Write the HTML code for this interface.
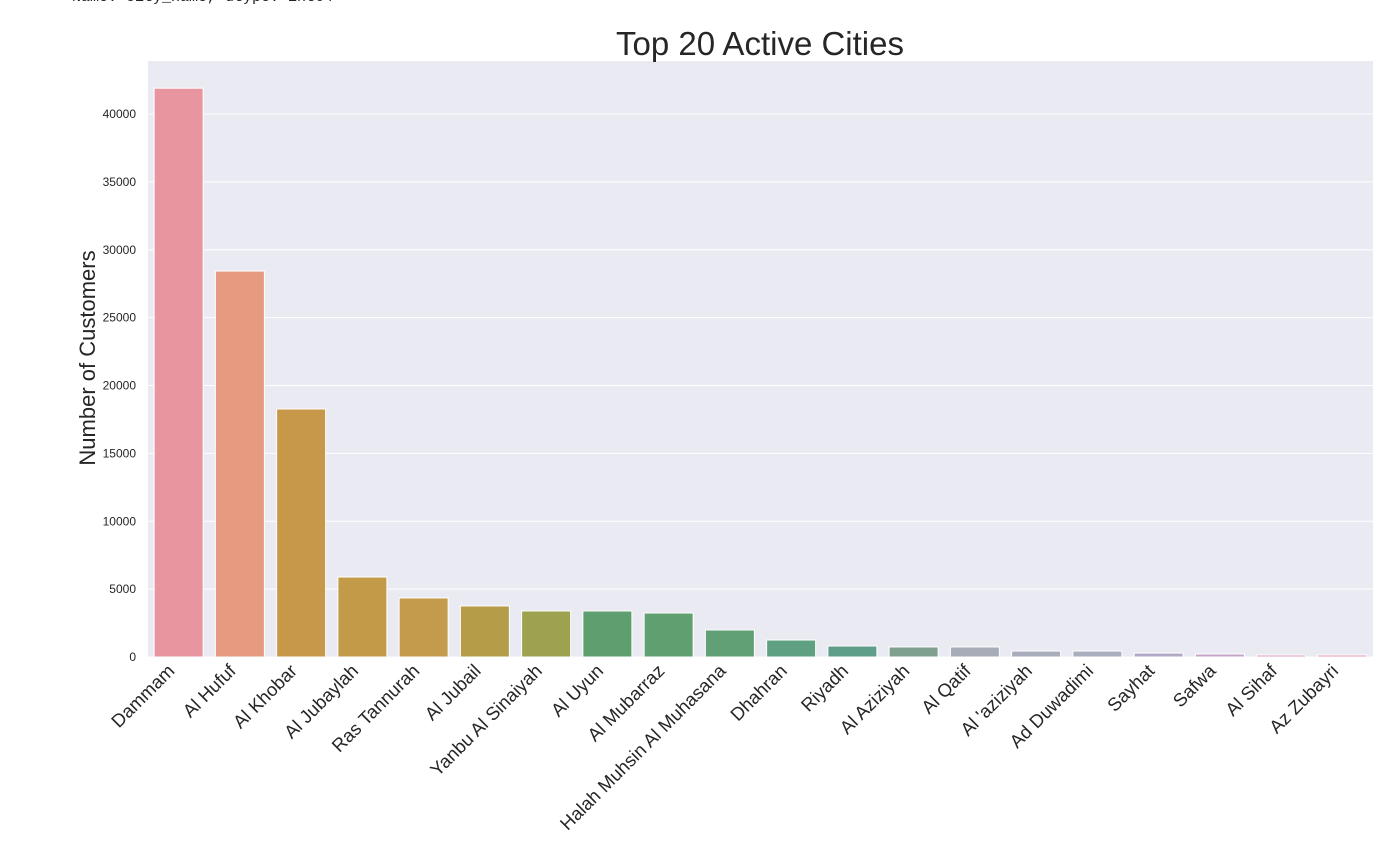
<!DOCTYPE html>
<html><head><meta charset="utf-8">
<style>
body{margin:0;background:#fff;width:1400px;height:841px;overflow:hidden;font-family:"Liberation Sans",sans-serif;}
</style></head>
<body>
<div style="position:absolute;left:72px;top:-11px;font-family:'Liberation Mono',monospace;font-size:15px;color:#222;">Name: city_name, dtype: int64</div>
<svg id="chart" width="1400" height="841" style="position:absolute;left:0;top:0"></svg>
<script>
const categories=["Dammam","Al Hufuf","Al Khobar","Al Jubaylah","Ras Tannurah","Al Jubail","Yanbu Al Sinaiyah","Al Uyun","Al Mubarraz","Halah Muhsin Al Muhasana","Dhahran","Riyadh","Al Aziziyah","Al Qatif","Al 'aziziyah","Ad Duwadimi","Sayhat","Safwa","Al Sihaf","Az Zubayri"];
const values=[41900,28430,18270,5890,4350,3760,3390,3390,3240,1990,1250,810,740,740,440,440,290,220,150,150];
const yTicks=[0,5000,10000,15000,20000,25000,30000,35000,40000];
const colors=["#e8959f","#e69a80","#c8984a","#c39a48","#c49a4c","#b59c48","#9da24f","#5f9e6e","#60a070","#61a074","#5fa080","#5f9e88","#7fa08e","#a7acb8","#a9adbb","#aaaebe","#b3a9c6","#c4a4c8","#d6a0c0","#e39cae"];
const svg=document.getElementById('chart');
const NS='http://www.w3.org/2000/svg';
const L=148,R=1373,T=61,B=657;
const x=i=>L+(R-L)/categories.length*(i+0.5);
const bw=(R-L)/categories.length*0.8;
const y=v=>B-v*(B-114)/40000;
function mk(t,a){const e=document.createElementNS(NS,t);for(const k in a)e.setAttribute(k,a[k]);svg.appendChild(e);return e;}
const bg=mk('rect',{x:L,y:T,width:R-L,height:B-T,fill:'#eaeaf2'});


yTicks.forEach(v=>{
  const g=mk('line',{x1:L,x2:R,y1:y(v),y2:y(v),stroke:'#fff','stroke-width':1});
  
  
  const t=mk('text',{x:L-12,y:y(v)+4,'text-anchor':'end','font-size':12,fill:'#262626'});
  t.textContent=v;
  
  
});
categories.forEach((c,i)=>{
  const r=mk('rect',{x:x(i)-bw/2,y:y(values[i]),width:bw,height:B-y(values[i]),fill:colors[i],stroke:'#fff','stroke-width':1});
  
  
  const ax=x(i)-3, ay=B+15;
  const t=mk('text',{x:ax,y:ay,'text-anchor':'end','font-size':18.5,fill:'#262626',transform:`rotate(-45 ${ax} ${ay})`});
  t.textContent=c;
  
  
});
const title=mk('text',{x:760,y:55,'text-anchor':'middle','font-size':33,fill:'#262626'});
title.textContent='Top 20 Active Cities';


const yt=mk('text',{x:95,y:358,'text-anchor':'middle','font-size':22,fill:'#262626',transform:'rotate(-90 95 358)'});
yt.textContent='Number of Customers';


</script>
</body></html>
